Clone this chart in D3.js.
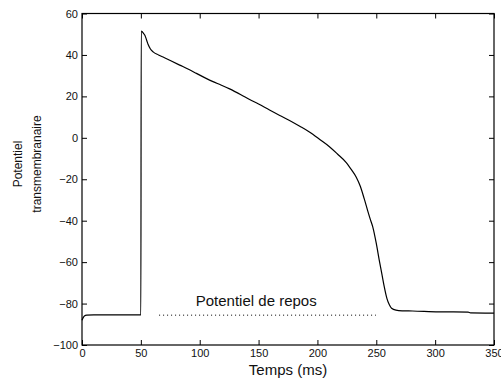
<!DOCTYPE html>
<html><head><meta charset="utf-8">
<script src="https://cdn.jsdelivr.net/npm/d3@7"></script>
<style>
body{margin:0;background:#fff;}
svg{display:block;font-family:"Liberation Sans",Arial,sans-serif;}
</style></head>
<body><svg id="c" width="501" height="383"></svg>
<script>
const times = [0,1,2,4,10,50,50.3,51,52,53.4,55,56.2,58,60.4,65,68.9,75,83,90,97.2,105,111.3,118,125.4,135,142.4,150,159.3,168,176.3,185,193.2,202,210.2,217,224.3,229,233,236.5,239.8,242.6,245,247,250,252.5,255,256.8,259,261,263,266.7,272,280.8,303,328,330,350];
const potential = [-88,-86.8,-86,-85.6,-85.5,-85.5,51.5,51.3,50.6,49.5,47,45,43,41.5,40,39,37.3,35.1,33.2,31.1,28.8,27.1,25.5,23.6,20.8,18.5,16.3,13.4,10.8,8.4,5.6,2.8,-0.8,-4.3,-7.8,-11.8,-15.5,-19,-23.5,-29.5,-35,-39.5,-43,-51,-59,-66.5,-72,-77.5,-80.5,-82.3,-83.2,-83.5,-83.6,-84,-84.1,-84.5,-84.6];
const restLine = {t:[65.5,249.7], v:-85.6};
const restLabel = {text:"Potentiel de repos", t:148, v:-81};
const xTicks = [0,50,100,150,200,250,300,350];
const yTicks = [-100,-80,-60,-40,-20,0,20,40,60];
const xTitle = "Temps (ms)";
const yTitle = ["Potentiel","transmembranaire"];

const svg = d3.select("#c");
const x = d3.scaleLinear().domain([0,350]).range([82,494]);
const y = d3.scaleLinear().domain([-100,60]).range([345,13.5]);

function styleAxis(g, fs){
  g.select(".domain").remove();
  g.selectAll("line").attr("stroke","#000");
  g.selectAll("text").attr("font-size",fs).attr("fill","#111").attr("font-family","'Liberation Sans',Arial,sans-serif");
}
// box
svg.append("rect").attr("x",x(0)).attr("y",y(60)).attr("width",x(350)-x(0)).attr("height",y(-100)-y(60))
  .attr("fill","none").attr("stroke","#000").attr("stroke-width",1.2);

svg.append("g").attr("transform",`translate(0,${y(-100)})`)
  .call(d3.axisBottom(x).tickValues(xTicks).tickSizeInner(-5).tickSizeOuter(0).tickPadding(4))
  .call(g=>styleAxis(g,11));
svg.append("g").attr("transform",`translate(0,${y(60)})`)
  .call(d3.axisTop(x).tickValues(xTicks).tickSizeInner(-5).tickSizeOuter(0).tickFormat(""))
  .call(g=>styleAxis(g,11));
svg.append("g").attr("transform",`translate(${x(0)},0)`)
  .call(d3.axisLeft(y).tickValues(yTicks).tickSizeInner(-5).tickSizeOuter(0).tickPadding(4).tickFormat(d=>d<0?"\u2212"+Math.abs(d):d))
  .call(g=>styleAxis(g,11));
svg.append("g").attr("transform",`translate(${x(350)},0)`)
  .call(d3.axisRight(y).tickValues(yTicks).tickSizeInner(-5).tickSizeOuter(0).tickFormat(""))
  .call(g=>styleAxis(g,11));

// curve
const line = d3.line().x((d,i)=>x(times[i])).y((d,i)=>y(potential[i])).curve(d3.curveMonotoneX);
svg.append("path").datum(potential).attr("d",line).attr("fill","none").attr("stroke","#000").attr("stroke-width",1.2);

// rest line
svg.append("line").attr("x1",x(restLine.t[0])).attr("x2",x(restLine.t[1]))
  .attr("y1",y(restLine.v)).attr("y2",y(restLine.v))
  .attr("stroke","#000").attr("stroke-width",1).attr("stroke-dasharray","1,3");
svg.append("text").attr("x",x(restLabel.t)).attr("y",y(restLabel.v)).attr("text-anchor","middle")
  .attr("font-size",15).attr("fill","#111").text(restLabel.text);

// titles
svg.append("text").attr("x",(x(0)+x(350))/2).attr("y",375).attr("text-anchor","middle").attr("font-size",15).attr("fill","#111").text(xTitle);
const yl = svg.append("text").attr("transform",`translate(0,164) rotate(-90)`).attr("text-anchor","middle").attr("font-size",12).attr("fill","#111");
yl.append("tspan").attr("x",0).attr("y",22).text(yTitle[0]);
yl.append("tspan").attr("x",0).attr("y",41).text(yTitle[1]);
</script></body></html>
